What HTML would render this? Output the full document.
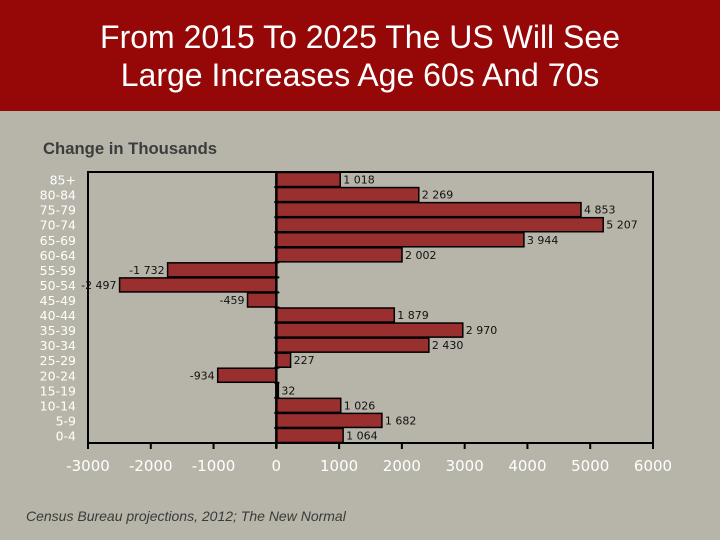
<!DOCTYPE html>
<html><head><meta charset="utf-8"><style>
body{margin:0;width:720px;height:540px;overflow:hidden;background:#b7b5a9;font-family:"Liberation Sans",sans-serif;}
#hdr{position:absolute;left:0;top:0;width:720px;height:111px;background:#960707;}
#title{position:absolute;left:0;top:18px;width:720px;text-align:center;color:#fff;font-size:32px;line-height:38px;}
#sub{position:absolute;left:43px;top:139px;font-size:17px;font-weight:bold;color:#3c3c3c;transform:scaleX(0.98);transform-origin:left;}
#foot{position:absolute;left:26px;top:508px;font-size:14px;font-style:italic;color:#3a3a3a;}
</style></head><body>
<div id="hdr"></div>
<div id="title">From 2015 To 2025 The US Will See<br>Large Increases Age 60s And 70s</div>
<div id="sub">Change in Thousands</div>
<div id="foot">Census Bureau projections, 2012; The New Normal</div>
<svg id="chart" width="720" height="540" style="position:absolute;left:0;top:0"></svg>
<script>
const categories=["85+","80-84","75-79","70-74","65-69","60-64","55-59","50-54","45-49","40-44","35-39","30-34","25-29","20-24","15-19","10-14","5-9","0-4"];
const values=[1018,2269,4853,5207,3944,2002,-1732,-2497,-459,1879,2970,2430,227,-934,32,1026,1682,1064];
const valueLabels=["1 018","2 269","4 853","5 207","3 944","2 002","-1 732","-2 497","-459","1 879","2 970","2 430","227","-934","32","1 026","1 682","1 064"];
const xTicks=[-3000,-2000,-1000,0,1000,2000,3000,4000,5000,6000];
const NS="http://www.w3.org/2000/svg";
const svg=document.getElementById('chart');
const L=88,R=653,T=172,B=443,xmin=-3000,xmax=6000;
const x=v=>L+(v-xmin)/(xmax-xmin)*(R-L);
const rowH=(B-T)/categories.length;
const y=i=>T+i*rowH;
function mk(t,a){const e=document.createElementNS(NS,t);for(const k in a)e.setAttribute(k,a[k]);svg.appendChild(e);return e;}
let f=mk('rect',{x:L,y:T,width:R-L,height:B-T,fill:'none',stroke:'#000','stroke-width':2});


categories.forEach((c,i)=>{
  const v=values[i],x0=x(0),x1=x(v);
  const r=mk('rect',{x:Math.min(x0,x1),y:y(i)+0.5,width:Math.max(1,Math.abs(x1-x0)),height:rowH-1,fill:'#9a2f2f',stroke:'#000','stroke-width':1.5});
  
  
  const lab=mk('text',{x:v>=0?x1+3:x1-3,y:y(i)+rowH/2+4,'font-size':11,fill:'#111','text-anchor':v>=0?'start':'end','font-family':'DejaVu Sans, sans-serif'});
  lab.textContent=valueLabels[i];
  
  
  const cl=mk('text',{x:76,y:y(i)+rowH/2+5,'font-size':12.5,fill:'#fff','text-anchor':'end','font-family':'DejaVu Sans, sans-serif'});
  cl.textContent=c;
  
  
  mk('line',{x1:x(0)-2,x2:x(0)+3,y1:y(i),y2:y(i),stroke:'#000','stroke-width':2});
});
let z=mk('line',{x1:x(0),x2:x(0),y1:T,y2:B+5,stroke:'#000','stroke-width':2.5});


xTicks.forEach(t=>{
  mk('line',{x1:x(t),x2:x(t),y1:B,y2:B+6,stroke:'#000','stroke-width':2});
  const tl=mk('text',{x:x(t),y:471,'font-size':15,fill:'#fff','text-anchor':'middle','font-family':'DejaVu Sans, sans-serif'});
  tl.textContent=t;
  
  
});
</script>
</body></html>
